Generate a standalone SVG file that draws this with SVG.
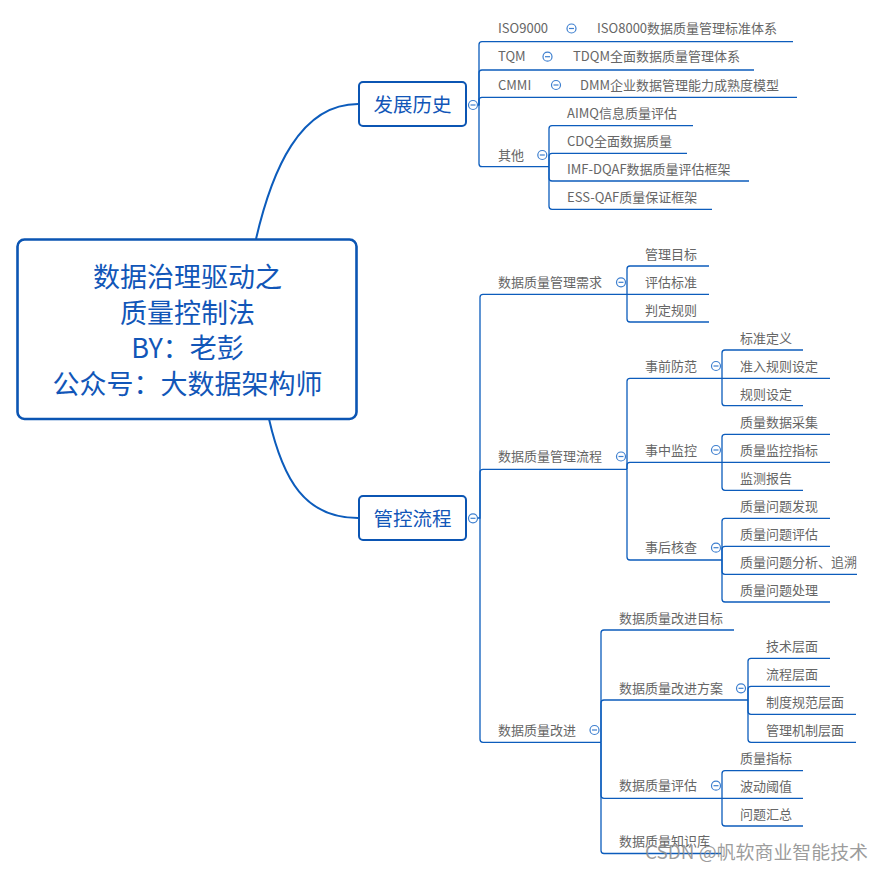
<svg xmlns="http://www.w3.org/2000/svg" width="885" height="870" viewBox="0 0 885 870">
<style>
.bg{fill:#ffffff}
.c{fill:none;stroke:#0c5cbc;stroke-width:1.3}
.cm{fill:none;stroke:#0c5cbc;stroke-width:2}
.box{fill:#ffffff;stroke:#0b55b3;stroke-width:2}
.root{fill:#ffffff;stroke:#0b55b3;stroke-width:2.6}
.t{font-family:"Noto Sans CJK SC","Microsoft YaHei",sans-serif;font-size:13px;fill:#666666;dominant-baseline:central}
.tb{font-family:"Noto Sans CJK SC","Microsoft YaHei",sans-serif;font-size:19.5px;fill:#1156b8;dominant-baseline:central;text-anchor:middle}
.tr{font-family:"Noto Sans CJK SC","Microsoft YaHei",sans-serif;font-size:27px;fill:#1156b8;dominant-baseline:central;text-anchor:middle}
.wm{font-family:"Noto Sans CJK SC","Microsoft YaHei",sans-serif;font-size:18px;fill:#8a8a8a;fill-opacity:0.85;dominant-baseline:central}
</style>
<defs>
<g id="col"><circle r="4.5" fill="#ffffff" stroke="#3d7fcf" stroke-width="1.2"/><line x1="-2.5" y1="0" x2="2.5" y2="0" stroke="#3d7fcf" stroke-width="1.2"/></g>
</defs>
<rect class="bg" x="0" y="0" width="885" height="870"/>
<g id="connectors">
<path class="cm" d="M256,239 C272,170 300,104 358,104"/>
<path class="cm" d="M269,419 C283,480 305,518 358,518"/>
<path class="c" d="M477,105 H479 V44.7 Q479,41.7 482,41.7 H793"/>
<path class="c" d="M479,105 V73 Q479,70 482,70 H754"/>
<path class="c" d="M479,105 V100.3 Q479,97.3 482,97.3 H797"/>
<path class="c" d="M479,105 V163.7 Q479,166.7 482,166.7 H549"/>
<path class="c" d="M549,166.7 V128.7 Q549,125.7 552,125.7 H693"/>
<path class="c" d="M549,166.7 V156.3 Q549,153.3 552,153.3 H687"/>
<path class="c" d="M549,166.7 V178 Q549,181 552,181 H749"/>
<path class="c" d="M549,166.7 V206.3 Q549,209.3 552,209.3 H712"/>
<path class="c" d="M477,518 H480 V297.3 Q480,294.3 483,294.3 H627"/>
<path class="c" d="M480,518 V472.3 Q480,469.3 483,469.3 H627"/>
<path class="c" d="M480,518 V739.3 Q480,742.3 483,742.3 H601"/>
<path class="c" d="M627,294.3 V269 Q627,266 630,266 H709"/>
<path class="c" d="M627,294.3 H709"/>
<path class="c" d="M627,294.3 V319 Q627,322 630,322 H709"/>
<path class="c" d="M627,469.3 V381.3 Q627,378.3 630,378.3 H722"/>
<path class="c" d="M627,469.3 V465.3 Q627,462.3 630,462.3 H722"/>
<path class="c" d="M627,469.3 V557 Q627,560 630,560 H722"/>
<path class="c" d="M722,378.3 V353 Q722,350 725,350 H803"/>
<path class="c" d="M722,378.3 H830"/>
<path class="c" d="M722,378.3 V402.7 Q722,405.7 725,405.7 H803"/>
<path class="c" d="M722,462.3 V437.3 Q722,434.3 725,434.3 H830"/>
<path class="c" d="M722,462.3 H830"/>
<path class="c" d="M722,462.3 V487.3 Q722,490.3 725,490.3 H803"/>
<path class="c" d="M722,560 V521.3 Q722,518.3 725,518.3 H830"/>
<path class="c" d="M722,560 V549.3 Q722,546.3 725,546.3 H830"/>
<path class="c" d="M722,560 V571.3 Q722,574.3 725,574.3 H857"/>
<path class="c" d="M722,560 V599 Q722,602 725,602 H830"/>
<path class="c" d="M601,742.3 V633 Q601,630 604,630 H734"/>
<path class="c" d="M601,742.3 V703 Q601,700 604,700 H748"/>
<path class="c" d="M601,742.3 V795.3 Q601,798.3 604,798.3 H722"/>
<path class="c" d="M601,742.3 V850.5 Q601,853.5 604,853.5 H721"/>
<path class="c" d="M748,700 V661.3 Q748,658.3 751,658.3 H830"/>
<path class="c" d="M748,700 V689.3 Q748,686.3 751,686.3 H830"/>
<path class="c" d="M748,700 V711.3 Q748,714.3 751,714.3 H856"/>
<path class="c" d="M748,700 V739.3 Q748,742.3 751,742.3 H856"/>
<path class="c" d="M722,798.3 V773.7 Q722,770.7 725,770.7 H803"/>
<path class="c" d="M722,798.3 H803"/>
<path class="c" d="M722,798.3 V823 Q722,826 725,826 H803"/>
</g>
<g id="root">
<rect class="root" x="17.5" y="239.5" width="339" height="179.5" rx="7"/>
<text class="tr" x="187.5" y="275">数据治理驱动之</text>
<text class="tr" x="187.5" y="311">质量控制法</text>
<text class="tr" x="187.5" y="346">BY：老彭</text>
<text class="tr" x="187.5" y="382">公众号：大数据架构师</text>
</g>
<g id="n-history">
<rect class="box" x="359" y="82" width="107" height="44" rx="4"/>
<text class="tb" x="412.5" y="103">发展历史</text>
<use href="#col" x="473" y="105"/>
</g>
<g id="n-iso9000"><text class="t" x="498" y="27">ISO9000</text><use href="#col" x="571.5" y="28.5"/></g>
<g id="n-iso8000"><text class="t" x="597" y="27">ISO8000数据质量管理标准体系</text></g>
<g id="n-tqm"><text class="t" x="498" y="55.7">TQM</text><use href="#col" x="547.5" y="56.7"/></g>
<g id="n-tdqm"><text class="t" x="573" y="55.7">TDQM全面数据质量管理体系</text></g>
<g id="n-cmmi"><text class="t" x="498" y="84">CMMI</text><use href="#col" x="556" y="85"/></g>
<g id="n-dmm"><text class="t" x="580" y="84">DMM企业数据管理能力成熟度模型</text></g>
<g id="n-other"><text class="t" x="498" y="154">其他</text><use href="#col" x="542.3" y="155"/></g>
<g id="n-aimq"><text class="t" x="567" y="112">AIMQ信息质量评估</text></g>
<g id="n-cdq"><text class="t" x="567" y="140.5">CDQ全面数据质量</text></g>
<g id="n-imf"><text class="t" x="567" y="168">IMF-DQAF数据质量评估框架</text></g>
<g id="n-ess"><text class="t" x="567" y="196">ESS-QAF质量保证框架</text></g>
<g id="n-control">
<rect class="box" x="359" y="496" width="107" height="44" rx="4"/>
<text class="tb" x="412.5" y="517">管控流程</text>
<use href="#col" x="473" y="518.3"/>
</g>
<g id="n-req"><text class="t" x="498" y="281.3">数据质量管理需求</text><use href="#col" x="621" y="282.3"/></g>
<g id="n-req1"><text class="t" x="645" y="253">管理目标</text></g>
<g id="n-req2"><text class="t" x="645" y="281.3">评估标准</text></g>
<g id="n-req3"><text class="t" x="645" y="309">判定规则</text></g>
<g id="n-flow"><text class="t" x="498" y="455.5">数据质量管理流程</text><use href="#col" x="621" y="456.5"/></g>
<g id="n-pre"><text class="t" x="645" y="365">事前防范</text><use href="#col" x="716" y="366"/></g>
<g id="n-pre1"><text class="t" x="740" y="337.3">标准定义</text></g>
<g id="n-pre2"><text class="t" x="740" y="365">准入规则设定</text></g>
<g id="n-pre3"><text class="t" x="740" y="393">规则设定</text></g>
<g id="n-mid"><text class="t" x="645" y="449">事中监控</text><use href="#col" x="716" y="450"/></g>
<g id="n-mid1"><text class="t" x="740" y="421">质量数据采集</text></g>
<g id="n-mid2"><text class="t" x="740" y="449">质量监控指标</text></g>
<g id="n-mid3"><text class="t" x="740" y="477">监测报告</text></g>
<g id="n-post"><text class="t" x="645" y="546.7">事后核查</text><use href="#col" x="716" y="547.7"/></g>
<g id="n-post1"><text class="t" x="740" y="505">质量问题发现</text></g>
<g id="n-post2"><text class="t" x="740" y="533">质量问题评估</text></g>
<g id="n-post3"><text class="t" x="740" y="561">质量问题分析、追溯</text></g>
<g id="n-post4"><text class="t" x="740" y="589">质量问题处理</text></g>
<g id="n-imp"><text class="t" x="498" y="729">数据质量改进</text><use href="#col" x="594.5" y="730"/></g>
<g id="n-imp1"><text class="t" x="619" y="617.3">数据质量改进目标</text></g>
<g id="n-imp2"><text class="t" x="619" y="687.3">数据质量改进方案</text><use href="#col" x="741" y="688.3"/></g>
<g id="n-plan1"><text class="t" x="766" y="645">技术层面</text></g>
<g id="n-plan2"><text class="t" x="766" y="673">流程层面</text></g>
<g id="n-plan3"><text class="t" x="766" y="701">制度规范层面</text></g>
<g id="n-plan4"><text class="t" x="766" y="729">管理机制层面</text></g>
<g id="n-imp3"><text class="t" x="619" y="784.7">数据质量评估</text><use href="#col" x="716" y="785.7"/></g>
<g id="n-eval1"><text class="t" x="740" y="757">质量指标</text></g>
<g id="n-eval2"><text class="t" x="740" y="785">波动阈值</text></g>
<g id="n-eval3"><text class="t" x="740" y="813">问题汇总</text></g>
<g id="n-imp4"><text class="t" x="619" y="840.7">数据质量知识库</text></g>
<text class="wm" x="645" y="851" textLength="223" lengthAdjust="spacingAndGlyphs">CSDN @帆软商业智能技术</text>
</svg>
